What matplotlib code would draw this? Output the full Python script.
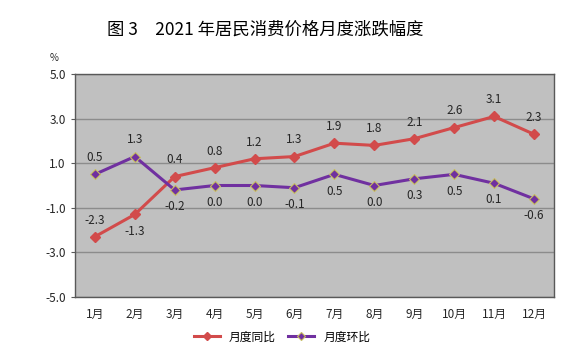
import matplotlib.pyplot as plt
import numpy as np

plt.rcParams['font.family'] = ['Noto Sans CJK SC', 'DejaVu Sans']

meses = ['1月', '2月', '3月', '4月', '5月', '6月', '7月', '8月', '9月', '10月', '11月', '12月']
tongbi = [-2.3, -1.3, 0.4, 0.8, 1.2, 1.3, 1.9, 1.8, 2.1, 2.6, 3.1, 2.3]
huanbi = [0.5, 1.3, -0.2, 0.0, 0.0, -0.1, 0.5, 0.0, 0.3, 0.5, 0.1, -0.6]
yticks = [-5.0, -3.0, -1.0, 1.0, 3.0, 5.0]

# posição dos rótulos: +1 acima, -1 abaixo
pos_tongbi = [1, -1, 1, 1, 1, 1, 1, 1, 1, 1, 1, 1]
pos_huanbi = [1, 1, -1, -1, -1, -1, -1, -1, -1, -1, -1, -1]

cor_vermelho = '#D24B4B'
cor_roxo = '#7030A0'

fig = plt.figure(figsize=(5.85, 3.53), dpi=100)
ax = fig.add_axes([0.128, 0.159, 0.819, 0.631])
ax.set_facecolor('#C0C0C0')

x = np.arange(len(meses))
ax.plot(x, tongbi, color=cor_vermelho, lw=2.2, marker='D', ms=5,
        mfc=cor_vermelho, mec=cor_vermelho, label='月度同比', zorder=3)
ax.plot(x, huanbi, color=cor_roxo, lw=2.2, marker='D', ms=5,
        mfc=cor_roxo, mec='#C8C060', mew=0.8, label='月度环比', zorder=3)

for xi, v, p in zip(x, tongbi, pos_tongbi):
    ax.annotate(f'{v:.1f}', (xi, v), xytext=(0, 12 * p), textcoords='offset points',
                ha='center', va='center', fontsize=8.5, color='#262626')
for xi, v, p in zip(x, huanbi, pos_huanbi):
    ax.annotate(f'{v:.1f}', (xi, v), xytext=(0, 12 * p), textcoords='offset points',
                ha='center', va='center', fontsize=8.5, color='#262626')

ax.set_xlim(-0.5, len(meses) - 0.5)
ax.set_ylim(-5.0, 5.0)
ax.set_yticks(yticks)
ax.set_yticklabels([f'{t:.1f}' for t in yticks])
ax.set_xticks(x)
ax.set_xticklabels(meses)
ax.tick_params(axis='y', labelsize=8.5, colors='#262626', length=3, color='#595959')
ax.tick_params(axis='x', labelsize=8.5, colors='#262626', length=0, pad=8)
ax.grid(True, axis='y', color='#8C8C8C', lw=1)
ax.set_axisbelow(True)
for s in ax.spines.values():
    s.set_color('#595959')
    s.set_linewidth(1)

fig.text(0.453, 0.915, '图 3　2021 年居民消费价格月度涨跌幅度', ha='center', va='center',
         fontsize=12.5, fontweight='medium', color='#000000')
fig.text(0.092, 0.835, '%', ha='center', va='center', fontsize=7, color='#262626')

leg = fig.legend(loc='center', bbox_to_anchor=(0.482, 0.045), ncol=2, frameon=False,
                 fontsize=8.5, handlelength=2.2, columnspacing=1.0, markerscale=0.8)

plt.savefig('out.png', dpi=100)
plt.close(fig)
